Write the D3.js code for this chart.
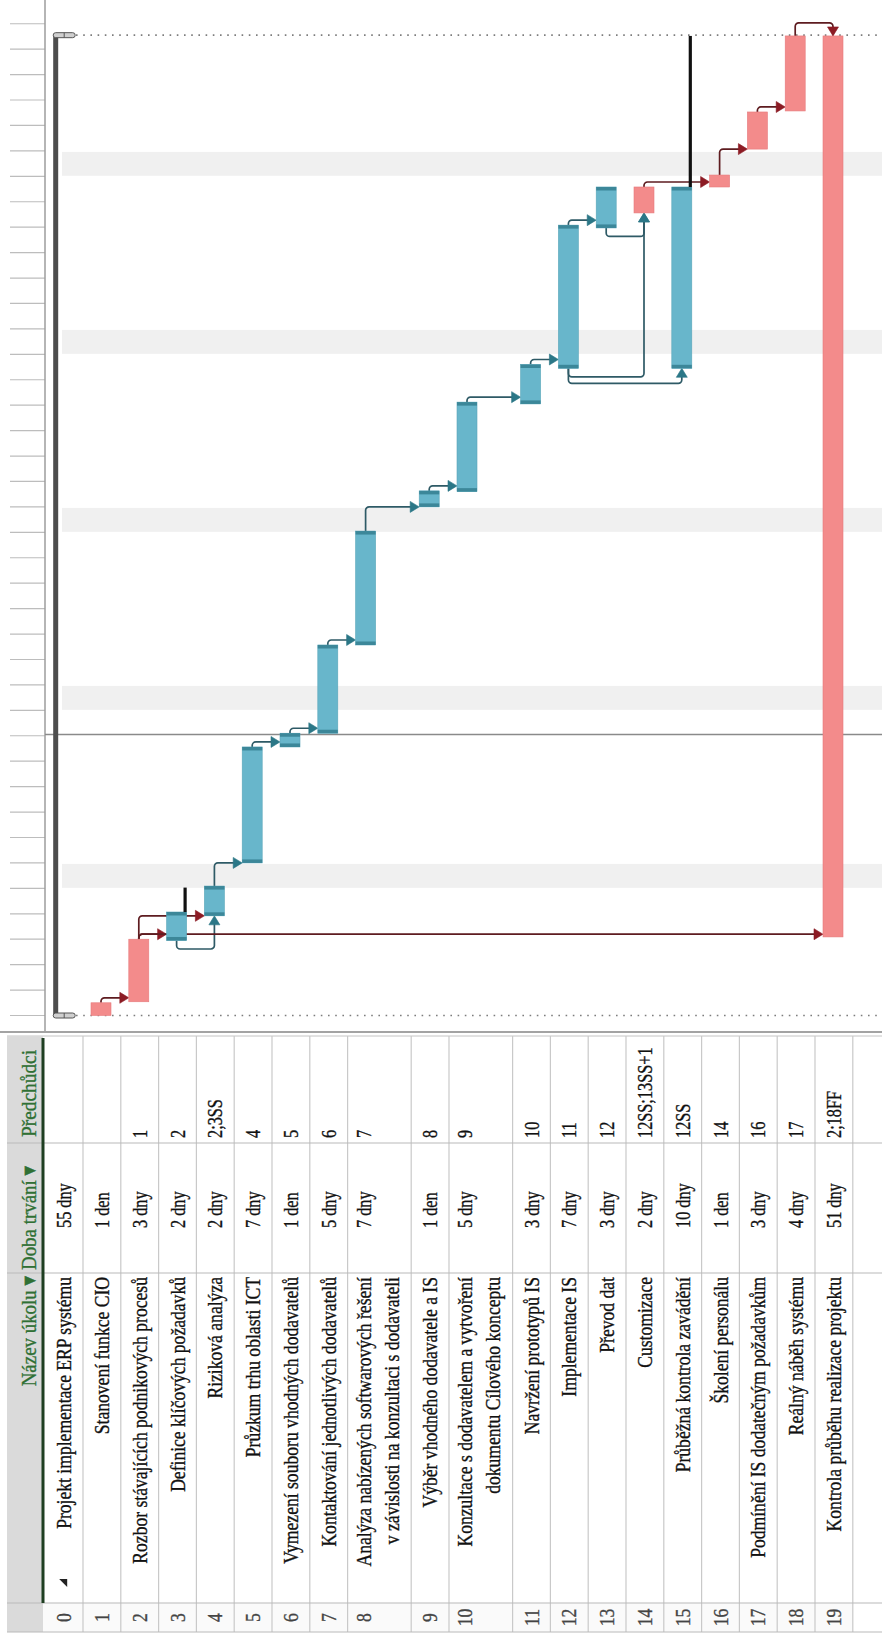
<!DOCTYPE html>
<html>
<head>
<meta charset="utf-8">
<script src="https://cdn.jsdelivr.net/npm/d3@7"></script>
<style>
  body { margin: 0; background: #fff; }
  svg { display: block; }
  text { font-family: "Liberation Serif", "DejaVu Serif", serif; }
</style>
</head>
<body>
<svg id="chart" width="882" height="1639"></svg>
<script>
// ---- Project data -------------------------------------------------------
const taskIds = d3.range(20);
const taskNames = [
  "Projekt implementace ERP systému",
  "Stanovení funkce CIO",
  "Rozbor stávajících podnikových procesů",
  "Definice klíčových požadavků",
  "Riziková analýza",
  "Průzkum trhu oblasti ICT",
  "Vymezení souboru vhodných dodavatelů",
  "Kontaktování jednotlivých dodavatelů",
  "Analýza nabízených softwarových řešení\nv závislosti na konzultaci s dodavateli",
  "Výběr vhodného dodavatele a IS",
  "Konzultace s dodavatelem a vytvoření\ndokumentu Cílového konceptu",
  "Navržení prototypů IS",
  "Implementace IS",
  "Převod dat",
  "Customizace",
  "Průběžná kontrola zavádění",
  "Školení personálu",
  "Podmínění IS dodatečným požadavkům",
  "Reálný náběh systému",
  "Kontrola průběhu realizace projektu"
];
const durations = ["55 dny", "1 den", "3 dny", "2 dny", "2 dny", "7 dny", "1 den", "5 dny", "7 dny", "1 den",
                   "5 dny", "3 dny", "7 dny", "3 dny", "2 dny", "10 dny", "1 den", "3 dny", "4 dny", "51 dny"];
const predecessors = ["", "", "1", "2", "2;3SS", "4", "5", "6", "7", "8",
                      "9", "10", "11", "12", "12SS;13SS+1", "12SS", "14", "16", "17", "2;18FF"];

// start / finish on the timeline, in days from project start
const startDay  = [0.00, 0.00, 0.54, 2.95, 3.92, 6.00, 10.56, 11.10, 14.57, 20.00,
                   20.60, 24.05, 25.45, 30.97, 31.56, 25.45, 32.58, 34.07, 35.57, 3.09];
const finishDay = [38.55, 0.50, 3.00, 4.07, 5.09, 10.56, 11.10, 14.57, 19.05, 20.63,
                   24.12, 25.60, 31.08, 32.58, 32.58, 32.58, 33.05, 35.53, 38.52, 38.52];
const critical  = [false, true, true, false, false, false, false, false, false, false,
                   false, false, false, false, true, false, true, true, true, true];
const slackTasks = [3, 15];
const slackEndDay = [5.03, 38.52];
const nonWorkingDays = [5, 12, 19, 26, 33];
const todayDay = 11.05;
const timelineDays = 39;

// dependency links: [predecessor, successor, type]
const links = [
  [1, 2, "FS"], [2, 3, "FS"], [2, 4, "FS"], [3, 4, "SS"], [4, 5, "FS"],
  [5, 6, "FS"], [6, 7, "FS"], [7, 8, "FS"], [8, 9, "FS"], [9, 10, "FS"],
  [10, 11, "FS"], [11, 12, "FS"], [12, 13, "FS"], [12, 14, "SS"], [13, 14, "SS"],
  [12, 15, "SS"], [14, 16, "FS"], [16, 17, "FS"], [17, 18, "FS"], [2, 19, "FS"], [18, 19, "FF"]
];

const headers = ["Název úkolu ▾", "Doba trvání ▾", "Předchůdci"];

// ---- Layout ------------------------------------------------------------
// The view is laid out as a normal table + Gantt (time running left to right,
// rows top to bottom) and then turned a quarter turn counter-clockwise.
const W = 882, H = 1639;
const svg = d3.select("#chart");
const g = svg.append("g").attr("transform", `translate(0,${H}) rotate(-90)`);

// u = along the time / column direction, v = across rows
const tableU0 = 7, numColEnd = 36, nameColEnd = 366, durColEnd = 496, tableU1 = 603, ganttU0 = 607;
const headV0 = 7, headV1 = 43;
const rowH = 37.8, extraLineH = 25.8;

const lineCount = taskNames.map(n => n.split("\n").length);
const rowTops = [];
{
  let acc = 45.2;
  taskIds.forEach(i => { rowTops.push(acc); acc += rowH + (lineCount[i] - 1) * extraLineH; });
  rowTops.push(acc);
}
const rowTop = d3.scaleOrdinal().domain(taskIds).range(rowTops);
const barOff = 8, barH = 20;
const barTop = i => rowTop(i) + barOff;
const barMid = i => rowTop(i) + barOff + barH / 2;

const x = d3.scaleLinear().domain([0, 40]).range([623.5, 623.5 + 40 * 25.43]);

const C = {
  blue: "#68b6cb", blueEnd: "#3c8799",
  pink: "#f38b8b", pinkEdge: "#e67a7c",
  redLine: "#5e1c20", redHead: "#8c1b24",
  tealLine: "#2e5a66", tealHead: "#2b7787",
  band: "#f0f0f0", grid: "#c9c9c9", header: "#dadada", headText: "#2f7034"
};

// ---- Gantt background ---------------------------------------------------
const gantt = g.append("g");

gantt.selectAll("rect.band").data(nonWorkingDays).join("rect")
  .attr("class", "band")
  .attr("x", d => x(d) + 0.5).attr("width", d => x(d + 1) - x(d) - 1.5)
  .attr("y", 62).attr("height", W - 62)
  .attr("fill", C.band);

// timescale ticks along the top strip
gantt.selectAll("line.tick").data(d3.range(0, timelineDays + 1)).join("line")
  .attr("class", "tick")
  .attr("x1", d => x(d)).attr("x2", d => x(d))
  .attr("y1", 10).attr("y2", 45)
  .attr("stroke", "#bdbdbd").attr("stroke-width", 1.2);

gantt.append("line")
  .attr("x1", ganttU0).attr("x2", H).attr("y1", 45).attr("y2", 45)
  .attr("stroke", "#9c9c9c").attr("stroke-width", 1.5);

// project start / finish markers
gantt.selectAll("line.pline").data([0, finishDay[0]]).join("line")
  .attr("class", "pline")
  .attr("x1", d => x(d)).attr("x2", d => x(d))
  .attr("y1", 76).attr("y2", W)
  .attr("stroke", "#7d7d7d").attr("stroke-width", 1.6)
  .attr("stroke-dasharray", "1.6,5.6");

// status date line
gantt.append("line")
  .attr("x1", x(todayDay)).attr("x2", x(todayDay))
  .attr("y1", 45).attr("y2", W)
  .attr("stroke", "#8a8a8a").attr("stroke-width", 1.5);

// ---- Links --------------------------------------------------------------
function rounded(points, r) {
  const p = d3.path();
  p.moveTo(points[0][0], points[0][1]);
  for (let i = 1; i < points.length - 1; i++) {
    p.arcTo(points[i][0], points[i][1], points[i + 1][0], points[i + 1][1], r);
  }
  const last = points[points.length - 1];
  p.lineTo(last[0], last[1]);
  return p.toString();
}
const AL = 8, AW = 5.5;
const linkG = gantt.append("g").attr("fill", "none");
const ssCount = {};
links.forEach(([p, s, type]) => {
  const crit = critical[p];
  const lineCol = crit ? C.redLine : C.tealLine;
  const headCol = crit ? C.redHead : C.tealHead;
  let pts, head;
  if (type === "FS") {
    const u0 = x(finishDay[p]);
    const uT = Math.max(x(startDay[s]), u0 + 5);
    const tip = barTop(s);
    pts = [[u0, barMid(p)], [uT, barMid(p)], [uT, tip - AL]];
    head = [[uT, tip], [uT - AW, tip - AL - 1], [uT + AW, tip - AL - 1]];
  } else if (type === "SS") {
    ssCount[p] = (ssCount[p] || 0) + 1;
    const drop = ssCount[p] === 1 ? 8.5 : 15;
    const u0 = x(startDay[p]);
    const tip = x(startDay[s]);
    pts = [[u0, barMid(p)], [u0 - drop, barMid(p)], [u0 - drop, barMid(s)], [tip - AL, barMid(s)]];
    head = [[tip, barMid(s)], [tip - AL - 1, barMid(s) - AW], [tip - AL - 1, barMid(s) + AW]];
  } else {
    const u0 = x(finishDay[p]);
    const tip = x(finishDay[s]);
    const uT = Math.max(u0, tip) + 13;
    pts = [[u0, barMid(p)], [uT, barMid(p)], [uT, barMid(s)], [tip + AL, barMid(s)]];
    head = [[tip, barMid(s)], [tip + AL + 1, barMid(s) - AW], [tip + AL + 1, barMid(s) + AW]];
  }
  linkG.append("path").attr("d", rounded(pts, 3.5))
    .attr("stroke", lineCol).attr("stroke-width", 1.7);
  linkG.append("path").attr("d", "M" + head.join("L") + "Z")
    .attr("fill", headCol).attr("stroke", headCol).attr("stroke-width", 0.6);
});

// ---- Bars ---------------------------------------------------------------
const taskBars = taskIds.filter(i => i > 0);
const barG = gantt.append("g");
barG.selectAll("rect.bar").data(taskBars).join("rect")
  .attr("class", "bar")
  .attr("x", i => x(startDay[i])).attr("width", i => x(finishDay[i]) - x(startDay[i]))
  .attr("y", i => barTop(i)).attr("height", barH)
  .attr("fill", i => critical[i] ? C.pink : C.blue)
  .attr("stroke", i => critical[i] ? C.pinkEdge : "#5aa6ba").attr("stroke-width", 0.6);

// darker start / finish caps on non-critical bars
const capW = 3.5;
const capData = taskBars.filter(i => !critical[i]).flatMap(i => [
  { i, u: x(startDay[i]) }, { i, u: x(finishDay[i]) - capW }
]);
barG.selectAll("rect.cap").data(capData).join("rect")
  .attr("class", "cap")
  .attr("x", d => d.u).attr("width", capW)
  .attr("y", d => barTop(d.i)).attr("height", barH)
  .attr("fill", C.blueEnd);

// total slack lines
barG.selectAll("line.slack").data(slackTasks).join("line")
  .attr("class", "slack")
  .attr("x1", (t) => x(finishDay[t])).attr("x2", (t, k) => x(slackEndDay[k]))
  .attr("y1", t => barTop(t) + barH - 1.5).attr("y2", t => barTop(t) + barH - 1.5)
  .attr("stroke", "#111").attr("stroke-width", 3.2);

// summary bar for the whole project
barG.append("rect")
  .attr("x", x(startDay[0])).attr("width", x(finishDay[0]) - x(startDay[0]))
  .attr("y", barTop(0)).attr("height", 5)
  .attr("fill", "#4d4d4d");
barG.selectAll("rect.sumcap").data([startDay[0], finishDay[0]]).join("rect")
  .attr("class", "sumcap")
  .attr("x", d => x(d) - 2.5).attr("width", 5)
  .attr("y", barTop(0)).attr("height", 22)
  .attr("rx", 2.5)
  .attr("fill", "#cfcfcf").attr("stroke", "#555").attr("stroke-width", 1);
barG.selectAll("line.sumdiv").data([startDay[0], finishDay[0]]).join("line")
  .attr("class", "sumdiv")
  .attr("x1", d => x(d) - 2.5).attr("x2", d => x(d) + 2.5)
  .attr("y1", barTop(0) + 11).attr("y2", barTop(0) + 11)
  .attr("stroke", "#555").attr("stroke-width", 1);

// ---- Table --------------------------------------------------------------
const table = g.append("g");

// split bar between table and chart
table.append("line").attr("x1", ganttU0).attr("x2", ganttU0).attr("y1", 0).attr("y2", W)
  .attr("stroke", "#a3a3a3").attr("stroke-width", 2);
table.append("line").attr("x1", tableU1).attr("x2", tableU1).attr("y1", headV0).attr("y2", W)
  .attr("stroke", "#c4c4c4").attr("stroke-width", 1);

// header strip and row number column
table.append("rect").attr("x", tableU0).attr("y", headV0)
  .attr("width", tableU1 - tableU0).attr("height", headV1 - headV0).attr("fill", C.header);
table.append("rect").attr("x", tableU0).attr("y", headV1)
  .attr("width", numColEnd - tableU0).attr("height", rowTops[20] - headV1).attr("fill", "#fafafa");

// row separators
table.selectAll("line.row").data(rowTops.slice(1)).join("line")
  .attr("class", "row")
  .attr("x1", tableU0).attr("x2", tableU1)
  .attr("y1", d => d).attr("y2", d => d)
  .attr("stroke", C.grid).attr("stroke-width", 1.2);

// column separators
table.selectAll("line.col").data([tableU0, numColEnd, nameColEnd, durColEnd]).join("line")
  .attr("class", "col")
  .attr("x1", d => d).attr("x2", d => d)
  .attr("y1", headV0).attr("y2", W)
  .attr("stroke", "#b9b9b9").attr("stroke-width", 1.2);

// header underline
table.append("line").attr("x1", numColEnd).attr("x2", tableU1 - 2)
  .attr("y1", headV1).attr("y2", headV1)
  .attr("stroke", "#1f3f22").attr("stroke-width", 3);

function sText(parent, u, v, str, anchor, sx, size, fill) {
  parent.append("text")
    .attr("transform", `translate(${u},${v}) scale(${sx},1)`)
    .attr("text-anchor", anchor)
    .attr("font-size", size)
    .attr("fill", fill)
    .attr("stroke", fill).attr("stroke-width", 0.35)
    .text(str);
}

// header labels
sText(table, nameColEnd - 3, 36, headers[0], "end", 0.86, 22, C.headText);
sText(table, nameColEnd + 3, 36, headers[1], "start", 0.86, 22, C.headText);
sText(table, durColEnd + 6, 36, headers[2], "start", 0.88, 22, C.headText);

// rows
taskIds.forEach(i => {
  const lines = taskNames[i].split("\n");
  const base = lines.length > 1 ? rowTop(i) + 23 : rowTop(i) + 26;
  lines.forEach((ln, k) => sText(table, nameColEnd - 4, base + k * 28, ln, "end", 0.8, 22, "#111"));
  sText(table, (tableU0 + numColEnd) / 2, base, String(i), "middle", 0.8, 22, "#444");
  sText(table, 411, base, durations[i], "start", 0.74, 22, "#111");
  if (predecessors[i]) sText(table, durColEnd + 5, base, predecessors[i], "start", 0.74, 22, "#111");
});

// collapse marker on the summary row
table.append("path")
  .attr("d", `M52,${rowTop(0) + 22}L60,${rowTop(0) + 22}L60,${rowTop(0) + 14}Z`)
  .attr("fill", "#222");
</script>
</body>
</html>
